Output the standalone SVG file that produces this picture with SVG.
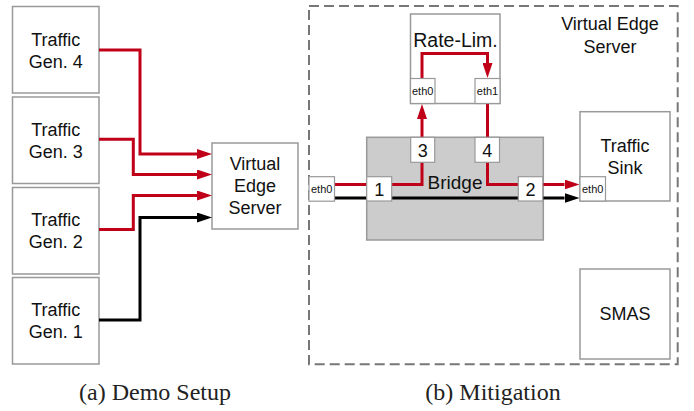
<svg xmlns="http://www.w3.org/2000/svg" width="694" height="411" viewBox="0 0 694 411">
<defs>
<style>
.box{fill:#fff;stroke:#999;stroke-width:1.5}
.port{fill:#fff;stroke:#999;stroke-width:1.2}
.lbl{font-family:"Liberation Sans",Arial,sans-serif;font-size:18px;fill:#111;text-anchor:middle}
.big{font-size:19.5px}
.sm{font-family:"Liberation Sans",Arial,sans-serif;font-size:11px;fill:#111;text-anchor:middle}
.cap{font-family:"Liberation Serif","Times New Roman",serif;font-size:24px;fill:#222;text-anchor:middle}
.red{fill:none;stroke:#c00018;stroke-width:3}
.blk{fill:none;stroke:#000;stroke-width:3}
</style>
<marker id="ar" markerUnits="userSpaceOnUse" markerWidth="15" markerHeight="10" refX="0" refY="5" orient="auto" viewBox="0 0 15 10">
<path d="M0,0 L15,5 L0,10 Z" fill="#c00018"/>
</marker>
<marker id="ab" markerUnits="userSpaceOnUse" markerWidth="15" markerHeight="10" refX="0" refY="5" orient="auto" viewBox="0 0 15 10">
<path d="M0,0 L15,5 L0,10 Z" fill="#000"/>
</marker>
</defs>
<rect width="694" height="411" fill="#fff"/>

<!-- (a) Demo Setup -->
<g id="gen4"><rect class="box" x="12.5" y="6.5" width="86.5" height="86.5"/><text class="lbl" x="55.7" y="45.5">Traffic</text><text class="lbl" x="55.7" y="67.5">Gen. 4</text></g>
<g id="gen3"><rect class="box" x="12.5" y="97" width="86.5" height="86.5"/><text class="lbl" x="55.7" y="136">Traffic</text><text class="lbl" x="55.7" y="158">Gen. 3</text></g>
<g id="gen2"><rect class="box" x="12.5" y="187.5" width="86.5" height="86.5"/><text class="lbl" x="55.7" y="226">Traffic</text><text class="lbl" x="55.7" y="248">Gen. 2</text></g>
<g id="gen1"><rect class="box" x="12.5" y="277.5" width="86.5" height="86.5"/><text class="lbl" x="55.7" y="316">Traffic</text><text class="lbl" x="55.7" y="338">Gen. 1</text></g>
<g id="ves"><rect class="box" x="212" y="143" width="86" height="86"/><text class="lbl" x="255" y="169.5">Virtual</text><text class="lbl" x="255" y="191.5">Edge</text><text class="lbl" x="255" y="213.5">Server</text></g>

<!-- (b) Mitigation -->
<g id="ves-container"><rect x="309" y="6" width="368.7" height="358.3" fill="none" stroke="#777" stroke-width="2" stroke-dasharray="10,5"/><text class="lbl" x="610" y="29.5">Virtual Edge</text><text class="lbl" x="610" y="52.5">Server</text></g>
<g id="ratelim"><rect class="box" x="410.5" y="14" width="89.5" height="89.5"/><text class="lbl big" x="455.5" y="46.5">Rate-Lim.</text></g>
<g id="bridge"><rect x="366.7" y="137.3" width="176.6" height="102.7" fill="#ccc" stroke="#999" stroke-width="1.5"/><text class="lbl" x="455" y="189" style="font-size:19px">Bridge</text></g>
<g id="sink"><rect class="box" x="580" y="111.7" width="90" height="89.3"/><text class="lbl" x="625" y="151.7">Traffic</text><text class="lbl" x="625" y="174">Sink</text></g>
<g id="smas"><rect class="box" x="580" y="269" width="90" height="90"/><text class="lbl" x="625" y="320">SMAS</text></g>

<g id="connectors">
<path class="red" d="M99,50 H140 V154 H197" marker-end="url(#ar)"/>
<path class="red" d="M99,139.3 H133.3 V174.5 H197" marker-end="url(#ar)"/>
<path class="red" d="M99,229.5 H133.3 V195.5 H197" marker-end="url(#ar)"/>
<path class="blk" d="M99,320 H140 V217.5 H197" marker-end="url(#ab)"/>
<path class="red" d="M334.5,184.5 H422 V119" marker-end="url(#ar)"/>
<path class="red" d="M422,78.5 V53.5 H487.5 V63" marker-end="url(#ar)"/>
<path class="red" d="M487.5,103.5 V184.5 H564.5" marker-end="url(#ar)"/>
<path class="blk" d="M334.5,198 H564.5" marker-end="url(#ab)"/>
</g>

<g id="rl-eth0"><rect class="port" x="410.5" y="78.5" width="24.5" height="25"/><text class="sm" x="422.7" y="95">eth0</text></g>
<g id="rl-eth1"><rect class="port" x="475" y="78.5" width="25" height="25"/><text class="sm" x="487.5" y="95">eth1</text></g>
<g id="port3"><rect class="port" x="410.7" y="137.3" width="24" height="25"/><text class="lbl" x="422.7" y="157">3</text></g>
<g id="port4"><rect class="port" x="475" y="137.3" width="24.5" height="25"/><text class="lbl" x="487.3" y="157">4</text></g>
<g id="port1"><rect class="port" x="366.7" y="176.7" width="25" height="24.3"/><text class="lbl" x="379.2" y="195.5">1</text></g>
<g id="port2"><rect class="port" x="518.3" y="176.7" width="24.5" height="24.3"/><text class="lbl" x="530.5" y="195.5">2</text></g>
<g id="in-eth0"><rect class="port" x="309" y="176.7" width="25.5" height="24.5"/><text class="sm" x="321.7" y="193">eth0</text></g>
<g id="sink-eth0"><rect class="port" x="580" y="176.7" width="25.5" height="24.3"/><text class="sm" x="592.7" y="193">eth0</text></g>

<text class="cap" x="155" y="400">(a) Demo Setup</text>
<text class="cap" x="493" y="400">(b) Mitigation</text>
</svg>
